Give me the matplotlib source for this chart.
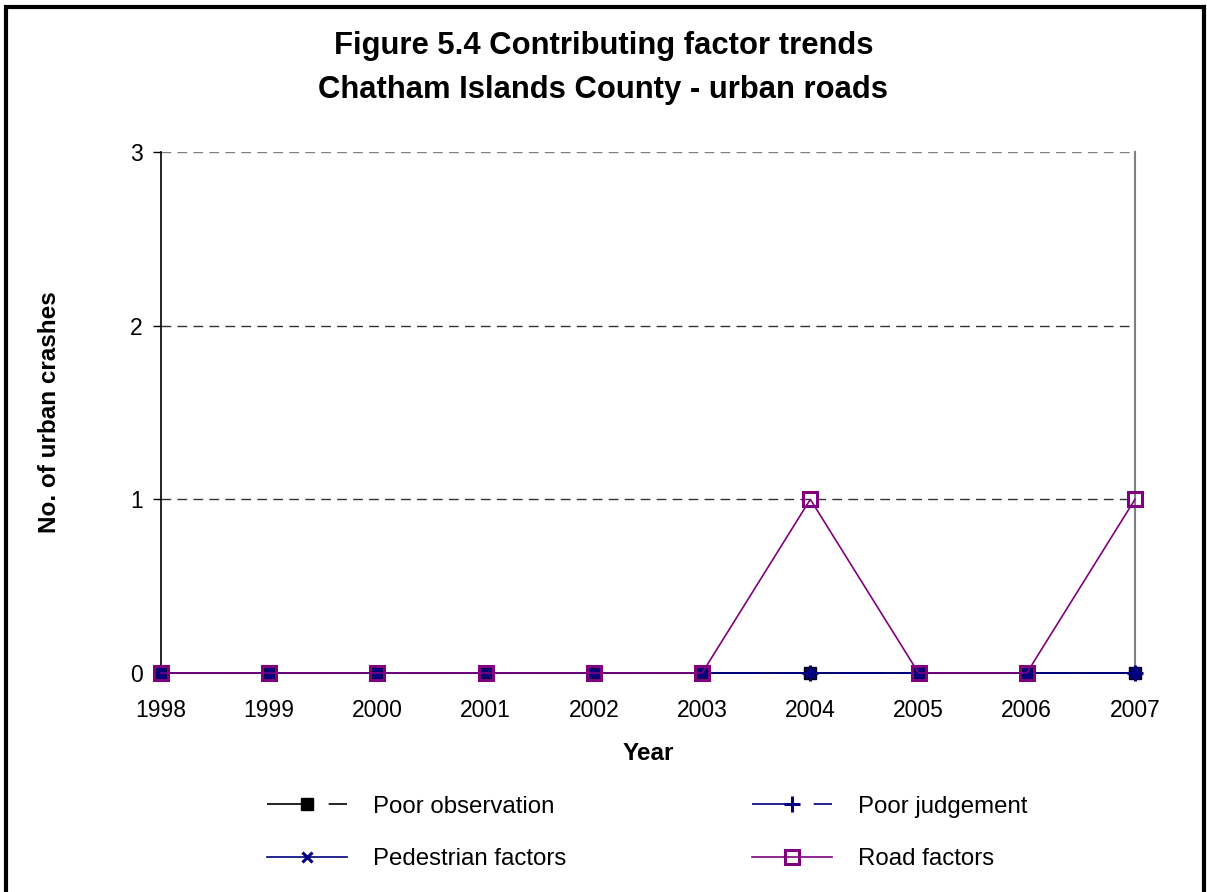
import matplotlib.pyplot as plt
from matplotlib.patches import Rectangle

plt.rcParams['font.family'] = ['Liberation Sans', 'DejaVu Sans']

years = [1998, 1999, 2000, 2001, 2002, 2003, 2004, 2005, 2006, 2007]
poor_observation = [0, 0, 0, 0, 0, 0, 0, 0, 0, 0]
poor_judgement = [0, 0, 0, 0, 0, 0, 0, 0, 0, 0]
pedestrian_factors = [0, 0, 0, 0, 0, 0, 0, 0, 0, 0]
road_factors = [0, 0, 0, 0, 0, 0, 1, 0, 0, 1]
y_ticks = [0, 1, 2, 3]

fig = plt.figure(figsize=(12.07, 8.92), dpi=100)
ax = fig.add_axes([161/1207, 1 - 673/892, (1135 - 161)/1207, (673 - 152)/892])

# gridlines first so the data sits on top
for y in y_ticks[1:]:
    ax.axhline(y, color='#333333' if y < 3 else '#808080', lw=1.0, ls=(0, (7, 4.5)), zorder=0)

dash = (0, (27, 10))
l_obs, = ax.plot(years, poor_observation, color='black', lw=1.2, ls=dash,
                 marker='s', ms=8, mfc='black', mec='black', zorder=2, clip_on=False)
l_judg, = ax.plot(years, poor_judgement, color='#000080', lw=1.2, ls=dash,
                  marker='+', ms=11, mew=2.2, zorder=3, clip_on=False)
l_ped, = ax.plot(years, pedestrian_factors, color='#000080', lw=1.2,
                 marker='x', ms=7, mew=2.2, zorder=4, clip_on=False)
l_road, = ax.plot(years, road_factors, color='#800080', lw=1.2,
                  marker='s', ms=10, mfc='none', mec='#800080', mew=2.2, zorder=5, clip_on=False)

ax.set_xlim(years[0], years[-1])
ax.set_ylim(0, 3)
ax.set_xticks(years)
ax.set_yticks(y_ticks)
ax.tick_params(axis='x', length=0, pad=19, labelsize=16.5)
ax.tick_params(axis='y', length=6, width=1, direction='out', pad=7, labelsize=16.5)

ax.spines['top'].set_visible(False)
ax.spines['right'].set_color('#808080')
ax.spines['right'].set_linewidth(1.5)
ax.spines['left'].set_linewidth(1.2)
ax.spines['bottom'].set_linewidth(1.2)

ax.set_xlabel('Year', fontsize=17.5, fontweight='bold', labelpad=14)
ax.set_ylabel('No. of urban crashes', fontsize=17.5, fontweight='bold', labelpad=50)

fig.text(0.5, 1 - 46/892, 'Figure 5.4 Contributing factor trends', ha='center', va='center',
         fontsize=22.3, fontweight='bold')
fig.text(0.5, 1 - 90/892, 'Chatham Islands County - urban roads', ha='center', va='center',
         fontsize=22.3, fontweight='bold')

leg = fig.legend([l_obs, l_ped, l_judg, l_road],
                 ['Poor observation', 'Pedestrian factors', 'Poor judgement', 'Road factors'],
                 ncol=2, frameon=False, fontsize=17.3, loc='center',
                 bbox_to_anchor=(647/1207, 1 - 833/892),
                 handlelength=3.33, handletextpad=1.08, columnspacing=7.75, labelspacing=1.28)

# outer chart border
fig.add_artist(Rectangle((6/1207, -0.05), (1204 - 6)/1207, 1.05 - 7/892,
                         transform=fig.transFigure, fill=False, ec='black', lw=3))

fig.savefig('out.png', dpi=100)
